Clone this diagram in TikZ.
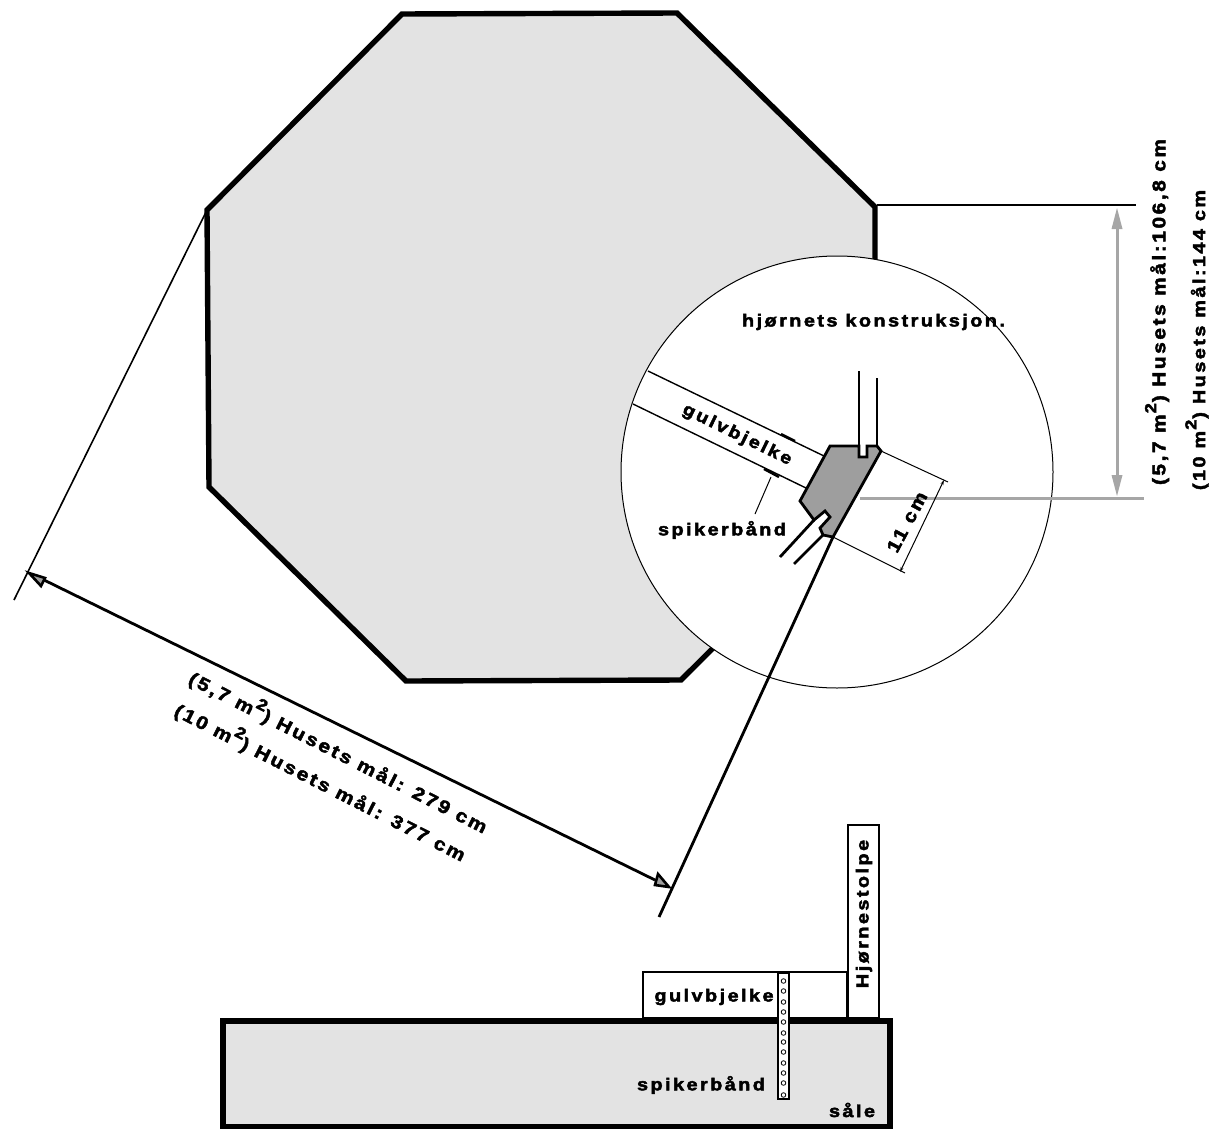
\documentclass[tikz,border=0pt]{standalone}
\usepackage{fontspec}
\usetikzlibrary{arrows.meta}
\setmainfont{Liberation Sans}[BoldFont=Liberation Sans Bold,BoldFeatures={FakeBold=2.6},LetterSpace=14,FakeStretch=1.15]
\newcommand{\supr}[1]{\kern1pt\raisebox{0.5em}{\fontsize{16}{16}\selectfont #1}\kern1pt}
\tikzset{
  lab/.style={font=\fontsize{17.3}{20}\selectfont\bfseries,inner sep=0pt,text=black},
  big lab/.style={font=\fontsize{18.2}{20}\selectfont\bfseries,inner sep=0pt,text=black},
  heavy/.style={draw=black,line width=5.4pt,line join=miter},
  thin line/.style={draw=black,line width=1pt},
  mid line/.style={draw=black,line width=2.8pt},
  greyl/.style={draw=black!35,line width=3pt},
  hole/.style={circle,draw=black,fill=white,line width=.8pt,minimum size=4.6pt,inner sep=0pt},
  tipb/.style={draw=black,line width=2.6pt,fill=black!38,line join=miter},
}
\begin{document}
\begin{tikzpicture}[x=1pt,y=-1pt]
\useasboundingbox (0,0) rectangle (1212,1129);
% octagon
\draw[heavy,fill=black!11] (402,14)--(677,13)--(875,207)--(875,487)--(681,680)--(406,681)--(209,487)--(207,210)--cycle;
% circle
\node[circle,draw=black,fill=white,line width=1pt,minimum size=432pt,inner sep=0pt] (lens) at (837,472) {};
% named points
\coordinate (oL) at (207,210);
\coordinate (oR) at (877,205);
\coordinate (dA) at (14,600);
\coordinate (dB) at (659,917);
\coordinate (cb) at (833,537);
\coordinate (eR) at (1136,205);
\coordinate (gA) at (860,498);
\coordinate (gB) at (1144,498);
\coordinate (vT) at (1117,222);
\coordinate (vB) at (1117,482);
\coordinate (hA) at (42,579);
\coordinate (hB) at (655,880);
% extension lines
\draw[thin line,line width=1.6pt] (oL)--(dA);
\draw[mid line] (oR)--(eR);
\draw[greyl] (gA)--(gB);
\draw[mid line] (cb)--(dB);
% grey vertical dimension
\draw[greyl] (vT)--(vB);
\coordinate (vTt) at (1117,208); \coordinate (vTl) at (1111.5,229); \coordinate (vTr) at (1122.5,229);
\coordinate (vBt) at (1117,496); \coordinate (vBl) at (1111.5,475); \coordinate (vBr) at (1122.5,475);
\fill[black!35] (vTt)--(vTl)--(vTr)--cycle;
\fill[black!35] (vBt)--(vBl)--(vBr)--cycle;
% long dimension
\draw[mid line] (hA)--(hB);
\coordinate (t1) at (29,573);
\coordinate (t2) at (669,887);
\draw[tipb] (t1)--(45,578)--(41,586)--cycle;
\draw[tipb] (t2)--(658,874)--(655,885)--cycle;
% joist
\coordinate (j1) at (648,371); \coordinate (j2) at (824,456);
\coordinate (j3) at (633,404); \coordinate (j4) at (806,488);
\draw[thin line,line width=1.4pt] (j1)--(j2);
\draw[thin line,line width=1.4pt] (j3)--(j4);
\draw[black,line width=2.4pt] (781,434)--(795,441);
\draw[black,line width=2.4pt] (764,469)--(779,477);
\coordinate (sp1) at (771,477); \coordinate (sp2) at (755,514);
\draw[thin line] (sp1)--(sp2);
% post block
\draw[mid line,fill=black!38,line join=miter] (830,446)--(859,446)--(859,457)--(867,457)--(867,446)--(877,446)--(881,451)--(833,537)--(823,535)--(820,528)--(830,517)--(825,511)--(814,520)--(800,501)--cycle;
\coordinate (p1) at (859,371); \coordinate (p2) at (859,457);
\coordinate (p3) at (877,378); \coordinate (p4) at (877,446);
\draw[mid line] (p1)--(p2);
\draw[mid line] (p3)--(p4);
\coordinate (w1) at (780,557); \coordinate (w2) at (814,520);
\coordinate (w3) at (794,564); \coordinate (w4) at (823,535);
\draw[mid line] (w1)--(w2);
\draw[mid line] (w3)--(w4);
% 11 cm dimension
\coordinate (e1) at (881,451); \coordinate (e2) at (948,482);
\coordinate (e3) at (833,537); \coordinate (e4) at (905,573);
\coordinate (m1) at (944,480); \coordinate (m2) at (900,572);
\draw[thin line] (e1)--(e2);
\draw[thin line] (e3)--(e4);
\draw[thin line,{Stealth[length=5pt,width=3pt]}-{Stealth[length=5pt,width=3pt]}] (m1)--(m2);
% base
\draw[heavy,fill=black!11] (223,1021)rectangle(890,1127);
\node[draw=black,line width=2.4pt,fill=white,inner sep=0pt,minimum width=204pt,minimum height=46pt] (joist) at (745,995) {};
\node[draw=black,line width=2.4pt,fill=white,inner sep=0pt,minimum width=31pt,minimum height=193pt] (post) at (863.5,921.5) {};
\draw[black,line width=5.4pt] (220.3,1021)--(892.7,1021);
\node[draw=black,line width=1.2pt,fill=white,inner sep=0pt,minimum width=11pt,minimum height=126pt] (strip) at (783.5,1036) {};
\foreach \i/\yy in {1/981,2/991,3/1002,4/1012,5/1022,6/1033,7/1042,8/1052,9/1063,10/1073,11/1083,12/1095}{
  \node[hole] (h\i) at (783.5,\yy) {};
}
% labels
\node[lab] (title) at (873.5,322) {hjørnets konstruksjon.};
\node[lab,rotate=-26] (lj) at (737,435) {gulvbjelke};
\node[lab] (ls) at (722,530) {spikerbånd};
\node[big lab,rotate=62] (l11) at (907,522) {11 cm};
\node[big lab,rotate=90] (v1) at (1157,312) {(5,7 m\supr{2}) Husets mål:106,8 cm};
\node[lab,rotate=90] (v2) at (1197,340) {(10 m\supr{2}) Husets mål:144 cm};
\node[big lab,rotate=-27] (d1) at (339,751) {(5,7 m\supr{2}) Husets mål: 279 cm};
\node[big lab,rotate=-27] (d2) at (321,781) {(10 m\supr{2}) Husets mål: 377 cm};
\node[lab] (g2) at (714,997) {gulvbjelke};
\node[lab,rotate=90] (hj) at (864,914) {Hjørnestolpe};
\node[lab] (s2) at (701,1085) {spikerbånd};
\node[lab] (sa) at (852,1110) {såle};
\end{tikzpicture}
\end{document}
